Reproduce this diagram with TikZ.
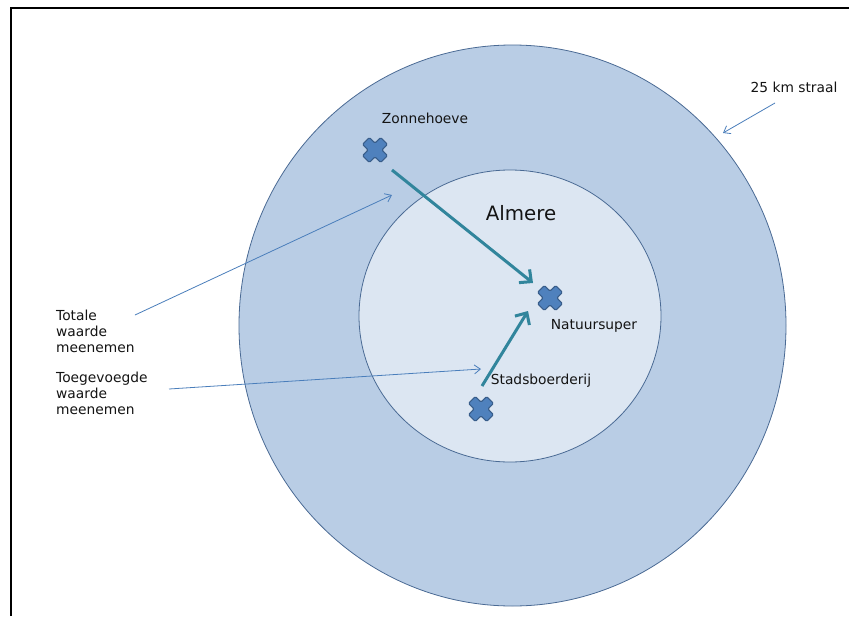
\documentclass[tikz,border=0pt]{standalone}
\usepackage{fontspec}
\setmainfont{DejaVu Sans}
\usetikzlibrary{arrows.meta}
\definecolor{outerfill}{HTML}{B9CDE5}
\definecolor{innerfill}{HTML}{DCE6F2}
\definecolor{ringline}{HTML}{4A6A94}
\definecolor{crossfill}{HTML}{4F81BD}
\definecolor{crossdraw}{HTML}{385D8A}
\definecolor{tealarrow}{HTML}{31859C}
\definecolor{callout}{HTML}{4A7EBB}
\definecolor{txt}{HTML}{141414}
\tikzset{
  xmark/.style={circle, minimum size=34pt, inner sep=0pt, path picture={
    \begin{scope}[shift={(path picture bounding box.center)}]
      \filldraw[fill=crossfill, draw=crossdraw, line width=1.1pt, rounded corners=1.2pt]
        (-5.66,-12.4) -- (0,-6.9) -- (5.66,-12.4) -- (12.4,-5.66) -- (6.9,0) -- (12.4,5.66)
        -- (5.66,12.4) -- (0,6.9) -- (-5.66,12.4) -- (-12.4,5.66) -- (-6.9,0) -- (-12.4,-5.66) -- cycle;
    \end{scope}}},
  lbl/.style={text=txt, inner sep=0pt, font=\fontsize{13.8}{16}\selectfont},
  lbllist/.style={lbl, align=left, anchor=north west},
  flow/.style={draw=tealarrow, line width=3pt, -{Straight Barb[length=9pt,width=17pt,line width=3pt]}},
  note/.style={draw=callout, line width=0.8pt, -{Straight Barb[length=6pt,width=9pt,line width=0.8pt]}},
  ring/.style={draw=ringline, line width=0.8pt},
}
\begin{document}
\begin{tikzpicture}[x=1pt,y=-1pt]
\useasboundingbox (0,0) rectangle (849,616);
\fill[white] (0,0) rectangle (849,616);
% frame (only left and top visible)
\draw[black, line width=2pt] (11,616) -- (11,8) -- (849,8);
% circles
\path[ring, fill=outerfill] (512.5,325.5) ellipse [x radius=273.5, y radius=280.5];
\path[ring, fill=innerfill] (510,316) ellipse [x radius=151, y radius=146];
% crosses
\node[xmark] (zon) at (375,150) {};
\node[xmark] (nat) at (550,298) {};
\node[xmark] (sta) at (481,409) {};
% labels
\node[lbl] (zonl) at (425,118) {Zonnehoeve};
\node[lbl] (natl) at (594,326) {Natuursuper};
\node[lbl] (stal) at (541,381) {Stadsboerderij};
\node[text=txt, inner sep=0pt, font=\fontsize{19.8}{22}\selectfont] (alm) at (521,213) {Almere};
\node[lbl] (straal) at (794,87) {25 km straal};
\node[lbllist] (tot) at (56,310) {Totale\\waarde\\meenemen};
\node[lbllist] (toe) at (56,372) {Toegevoegde\\waarde\\meenemen};
% flow arrows
\coordinate (f1s) at (392,170);
\coordinate (f1e) at (533,283);
\coordinate (f2s) at (482,386);
\coordinate (f2e) at (528,311);
\draw[flow] (f1s) -- (f1e);
\draw[flow] (f2s) -- (f2e);
% callouts
\coordinate (c1s) at (135,315);
\coordinate (c1e) at (392,195);
\coordinate (c2s) at (169,389);
\coordinate (c2e) at (481,369);
\coordinate (c3s) at (775,103);
\coordinate (c3e) at (723,133);
\draw[note] (c1s) -- (c1e);
\draw[note] (c2s) -- (c2e);
\draw[note] (c3s) -- (c3e);
\end{tikzpicture}
\end{document}
